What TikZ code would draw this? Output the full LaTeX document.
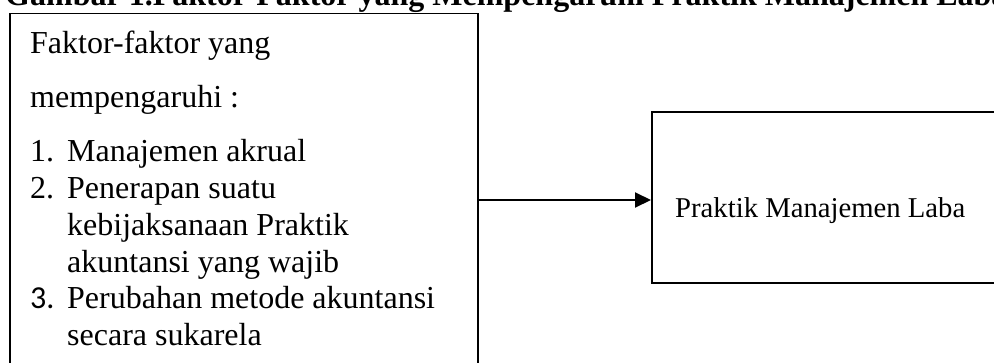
\documentclass[tikz,border=0pt]{standalone}
\usepackage{fontspec}
\setmainfont{Liberation Serif}
\newfontfamily\numfont{Carlito}
\usetikzlibrary{arrows.meta}
\tikzset{
  boxshape/.style={draw=black, line width=1.6pt, rectangle, anchor=north west, inner sep=0pt},
  txt/.style={anchor=base west, inner sep=0pt, font=\fontsize{32}{37}\selectfont},
  smalltxt/.style={anchor=base west, inner sep=0pt, font=\fontsize{28.7}{33}\selectfont},
  ttl/.style={anchor=base west, inner sep=0pt, font=\fontsize{32}{37}\selectfont\bfseries},
  conn/.style={draw=black, line width=2pt, -{Triangle[length=16pt,width=15pt]}}
}
\begin{document}
\begin{tikzpicture}[x=1pt,y=-1pt]
\useasboundingbox (0,0) rectangle (994,362);
\clip (0,0) rectangle (994,362);
\fill[white] (0,0) rectangle (994,362);
\node[ttl] (title) at (5,5) {Gambar 1.Faktor-Faktor yang Mempengaruhi Praktik Manajemen Laba};
\node[boxshape, minimum width=468pt, minimum height=400pt] (faktor) at (9,12.7) {};
\node[boxshape, minimum width=420pt, minimum height=171pt] (praktik) at (651,111) {};
\node[txt] (l1) at (30,53) {Faktor-faktor yang};
\node[txt] (l2) at (30,107) {mempengaruhi :};
\node[txt] (n1) at (30,161) {1.};
\node[txt] (i1) at (67,161) {Manajemen akrual};
\node[txt] (n2) at (30,198) {2.};
\node[txt] (i2a) at (67,198) {Penerapan suatu};
\node[txt] (i2b) at (67,235) {kebijaksanaan Praktik};
\node[txt] (i2c) at (67,272) {akuntansi yang wajib};
\node[txt] (n3) at (30,308) {\numfont 3.};
\node[txt] (i3a) at (67,308) {Perubahan metode akuntansi};
\node[txt] (i3b) at (67,345) {secara sukarela};
\node[smalltxt] (pml) at (675,217) {Praktik Manajemen Laba};
\draw[conn] (faktor.east |- 0,200) -- (praktik.west |- 0,200);
\end{tikzpicture}
\end{document}
